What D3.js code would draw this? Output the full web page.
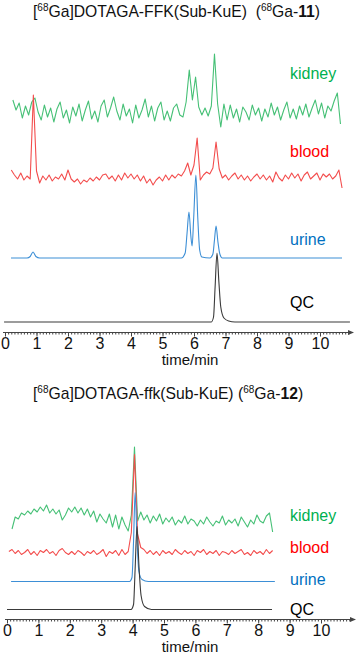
<!DOCTYPE html>
<html>
<head>
<meta charset="utf-8">
<script src="https://cdn.jsdelivr.net/npm/d3@7"></script>
<style>
  body { margin: 0; background: #fff; }
  svg { display: block; font-family: "Liberation Sans", Arial, sans-serif; }
</style>
</head>
<body>
<svg width="358" height="656"></svg>
<script>
// time axis (min)
var majorTicks = [0, 1, 2, 3, 4, 5, 6, 7, 8, 9, 10];
var traceNames = ['kidney', 'blood', 'urine', 'QC'];
var sampleStep = 0.1;

// ---- 68Ga-11 ----
// noisy radio traces, one reading every 0.1 min
var kidney11Start = 0.25;
var kidney11 = [12, 2, 9, -6, 6, -3, 10, 14, 0, -8,
  7, -5, 4, -10, 3, 10, -6, 2, -11, 5,
  -4, 8, -9, 2, 11, -7, 1, -10, 6, 12,
  -5, 4, 15, 1, -8, 8, -4, 3, -11, 7,
  -6, 2, 13, -5, 6, -9, 4, 10, -8, 1,
  -9, 4, 8, -3, -5, 10, 42, 12, 35, 5,
  -3, 4, -4, 6, 58, 8, -15, 8, -8, 7,
  -6, 3, -10, 5, 0, -8, 7, -3, 4, -9,
  3, -5, 9, -3, 5, -8, 2, 10, -6, 3,
  -7, 6, -3, 8, -5, 4, 12, -2, 9, -6,
  6, 1, 11, 19, -12];
var blood11Start = 0.2;
var blood11 = [7, 2, -2, 4, -3, 1, -2, 82, 6, -6,
  1, -3, 2, -4, 0, -2, 3, -3, 7, -2,
  -5, -2, -7, -3, -5, -1, -4, 0, -3, 2,
  3, -2, 1, -4, 2, -3, 4, -1, 3, -2,
  2, -4, 1, -6, -2, -8, -3, 0, -4, 2,
  -3, 2, -1, 3, 1, 6, 14, 2, 12, 39,
  -3, 2, 5, 3, 9, 35, 8, -1, 2, -3,
  1, 4, -2, 2, -3, 1, -4, 0, 3, -2,
  2, -3, 1, -5, 5, -1, -4, 2, -2, 4,
  -1, 3, -4, 2, 5, -2, 1, 4, -3, 3,
  0, 3, -2, 1, 7, -11];
// smooth traces as [time, signal]
var urine11 = [[0.19, 0], [0.7, 0], [0.8, 1.5], [0.89, 6], [0.98, 1.5], [1.1, 0],
  [5.6, 0], [5.72, 5], [5.78, 25], [5.84, 46], [5.9, 22], [5.94, 12], [5.99, 40],
  [6.06, 83], [6.12, 40], [6.18, 8], [6.25, 1], [6.5, 0], [6.6, 4], [6.65, 18],
  [6.7, 32], [6.76, 16], [6.82, 4], [6.9, 0], [10.7, 0]];
var qc11 = [[-0.03, 0], [6.55, 0], [6.62, 5], [6.67, 35], [6.73, 69], [6.79, 40],
  [6.85, 15], [6.95, 4], [7.1, 1], [7.3, 0], [10.95, 0]];
var offsets11 = [220, 155, 74, 10];

// ---- 68Ga-12 ----
var kidney12Start = 0.16;
var kidney12 = [-12, 0, -2, 4, 2, 6, 3, 8, 5, 10,
  6, 12, 4, 8, 3, 7, -3, 2, 9, 5,
  10, 4, 9, 2, 8, 0, 6, -5, 3, -2,
  -6, 3, -10, 2, -12, 0, -8, -14, 2, 70,
  -4, 5, -3, 2, -6, 1, -4, 3, -7, -1,
  -5, 0, -8, -3, -6, 1, -7, -2, -4, -9,
  -3, -7, 0, -5, -9, -4, -6, 1, -8, -3,
  -6, -2, -9, 0, -5, -10, -3, -7, 2, -4,
  -6, 1, 4, -15];
var blood12Start = 0.06;
var blood12 = [1, 3, -1, 2, -2, 0, 3, -2, 1, -3,
  2, 0, 3, -1, 1, -3, 2, 4, 0, -2,
  1, -2, 2, 0, -3, 1, -1, 2, -2, 0,
  3, -4, 1, -1, 2, -3, 3, -2, 1, 20,
  98, 18, 5, 3, -1, 2, -2, 1, -3, 2,
  -1, 1, -2, 3, 0, -2, 2, -1, 1, -3,
  2, 0, 3, -2, 1, -1, 2, -3, 1, 0,
  -2, 2, -1, 1, 3, -2, 0, -3, 2, -1,
  1, -2, 3, -1, 2];
var urine12 = [[0.13, 0], [3.9, 0], [3.98, 4], [4.03, 40], [4.08, 89], [4.14, 42],
  [4.2, 10], [4.3, 2], [4.5, 0], [8.53, 0]];
var qc12 = [[0, 0], [3.95, 0], [4.03, 5], [4.08, 40], [4.14, 83], [4.2, 45],
  [4.27, 14], [4.38, 3], [4.6, 0], [8.44, 0]];
var offsets12 = [102, 66.5, 37.5, 9.5];

var lineColors = ['#46c076', '#f34d4d', '#3d8fd6', '#3a3a3a'];
var labelColors = ['#00b050', '#ff0000', '#0070c0', '#000000'];

const svg = d3.select('svg');

function sampled(start, vals) {
  return vals.map(function(v, i) { return [start + i * sampleStep, v]; });
}

function drawPanel(p) {
  var x = d3.scaleLinear().domain([0, 10]).range(p.xRange);
  var y = d3.scaleLinear().domain([0, 300]).range([p.axisY, p.axisY - 300]);

  // title
  var t = svg.append('text')
    .attr('x', p.titleX).attr('y', p.titleY)
    .attr('font-size', 15.7).attr('fill', '#111')
    .style('white-space', 'pre');
  var shifted = false;
  p.title.forEach(function(part) {
    var s = t.append('tspan').text(part[0]);
    if (part[1] == 1) {
      s.attr('font-size', 10).attr('dy', -6);
      shifted = true;
    } else {
      if (shifted) { s.attr('dy', 6); shifted = false; }
      if (part[1] == 2) s.attr('font-weight', 'bold');
    }
  });

  // traces
  var series = [sampled(p.kStart, p.kidney), sampled(p.bStart, p.blood), p.urine, p.qc];
  series.forEach(function(data, i) {
    var line = d3.line()
      .x(function(d) { return x(d[0]); })
      .y(function(d) { return y(d[1] + p.offsets[i]); })
      .curve(i < 2 ? d3.curveLinear : d3.curveMonotoneX);
    svg.append('path')
      .datum(data)
      .attr('d', line)
      .attr('fill', 'none')
      .attr('stroke', lineColors[i])
      .attr('stroke-width', 1.1)
      .attr('stroke-linejoin', 'round');
  });

  // trace labels
  traceNames.forEach(function(name, i) {
    svg.append('text')
      .attr('x', 290).attr('y', p.labelY[i])
      .attr('font-size', 16)
      .attr('fill', labelColors[i])
      .text(name);
  });

  // axis
  var ay = p.axisY + 0.5;
  var g = svg.append('g').attr('transform', 'translate(0,' + ay + ')');
  g.append('line')
    .attr('x1', p.xRange[0] - 2).attr('x2', p.arrowX - 3)
    .attr('stroke', '#444').attr('stroke-width', 1);
  g.append('path')
    .attr('d', 'M' + (p.arrowX - 6) + ',-2.5L' + p.arrowX + ',0L' + (p.arrowX - 6) + ',2.5Z')
    .attr('fill', '#444');
  var minor = g.append('g').call(d3.axisBottom(x)
    .tickValues(d3.range(0, 10.95, 0.1)).tickSize(2).tickFormat(''));
  var major = g.append('g').call(d3.axisBottom(x)
    .tickValues(majorTicks).tickSize(4).tickPadding(1).tickFormat(d3.format('d')));
  g.selectAll('.domain').remove();
  g.selectAll('.tick line').attr('stroke', '#444');
  major.selectAll('text')
    .attr('font-size', 16)
    .attr('font-family', '"Liberation Sans", Arial, sans-serif')
    .attr('fill', '#111');

  svg.append('text')
    .attr('x', p.xLabelX).attr('y', p.xLabelY)
    .attr('text-anchor', 'middle')
    .attr('font-size', 15).attr('fill', '#111')
    .text('time/min');
}

drawPanel({
  xRange: [5, 320], axisY: 332, arrowX: 354,
  titleX: 33, titleY: 17,
  title: [['[', 0], ['68', 1], ['Ga]DOTAGA-FFK(Sub-KuE)\u00a0 (', 0], ['68', 1], ['Ga-', 0], ['11', 2], [')', 0]],
  kStart: kidney11Start, kidney: kidney11, bStart: blood11Start, blood: blood11,
  urine: urine11, qc: qc11, offsets: offsets11,
  labelY: [79, 157, 245, 308],
  xLabelX: 190, xLabelY: 365
});

drawPanel({
  xRange: [7, 321], axisY: 619, arrowX: 356,
  titleX: 33, titleY: 399,
  title: [['[', 0], ['68', 1], ['Ga]DOTAGA-ffk(Sub-KuE) (', 0], ['68', 1], ['Ga-', 0], ['12', 2], [')', 0]],
  kStart: kidney12Start, kidney: kidney12, bStart: blood12Start, blood: blood12,
  urine: urine12, qc: qc12, offsets: offsets12,
  labelY: [521, 553, 585, 615],
  xLabelX: 190, xLabelY: 652
});
</script>
</body>
</html>
